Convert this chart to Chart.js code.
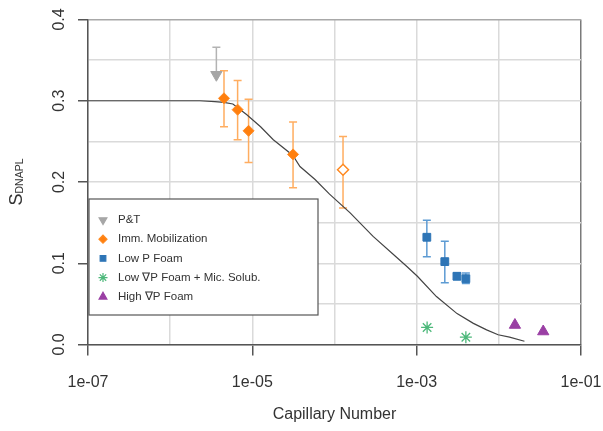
<!DOCTYPE html>
<html>
<head>
<meta charset="utf-8">
<script src="https://cdn.jsdelivr.net/npm/chart.js@4.4.1/dist/chart.umd.min.js"></script>
<style>
  html, body { margin: 0; padding: 0; background: #fff; }
  #wrap { width: 603px; height: 431px; position: relative; }
</style>
</head>
<body>
<div id="wrap"><canvas id="myChart"></canvas></div>
<script>
  // P&T
  const ptX = [3.65e-6]
  const ptY = [0.332]
  const ptHi = [0.366]
  const ptLo = [0.332]

  // Imm. Mobilization (last one is the open diamond)
  const immX = [4.52e-6, 6.62e-6, 9.0e-6, 3.13e-5, 1.27e-4]
  const immY = [0.303, 0.289, 0.263, 0.234, 0.215]
  const immHi = [0.337, 0.325, 0.302, 0.274, 0.256]
  const immLo = [0.268, 0.252, 0.224, 0.193, 0.168]

  // Low P Foam
  const lowPX = [1.33e-3, 2.2e-3, 3.09e-3, 3.97e-3]
  const lowPY = [0.132, 0.102, 0.084, 0.081]
  const lowPHi = [0.153, 0.127, 0.088, 0.088]
  const lowPLo = [0.108, 0.076, 0.080, 0.075]

  // Low gradP Foam + Mic. Solub.
  const micX = [1.34e-3, 3.97e-3]
  const micY = [0.021, 0.009]

  // High gradP Foam
  const highX = [1.57e-2, 3.47e-2]
  const highY = [0.024, 0.016]

  // model curve
  const curveX = [1e-7, 2.3e-6, 3.5e-6, 4.5e-6, 5.8e-6, 8.5e-6, 1.26e-5, 1.8e-5, 3.1e-5, 3.8e-5, 5.8e-5, 8.7e-5,
    1.55e-4, 2.95e-4, 5.6e-4, 7.6e-4, 1.02e-3, 1.74e-3, 3.1e-3, 4.9e-3, 7.1e-3, 9.8e-3, 1.35e-2, 2.05e-2]
  const curveY = [0.300, 0.300, 0.299, 0.298, 0.296, 0.283, 0.268, 0.252, 0.233, 0.219, 0.203, 0.185,
    0.162, 0.133, 0.108, 0.096, 0.084, 0.059, 0.038, 0.026, 0.018, 0.012, 0.009, 0.004]

  const xTicks = [1e-7, 1e-6, 1e-5, 1e-4, 1e-3, 1e-2, 1e-1]
  const xLabelled = [-7, -5, -3, -1]

  const FONT = '"Liberation Sans", Arial, sans-serif'
  const pts = (xs, ys) => xs.map((v, i) => ({ x: v, y: ys[i] }))
  const expOf = (v) => Math.round(Math.log10(v))
  const isYLabel = (v) => Math.abs(v * 10 - Math.round(v * 10)) < 1e-6

  // error bars under the markers
  const errorBars = {
    id: 'errorBars',
    beforeDatasetsDraw(chart) {
      const { ctx, scales: { x, y } } = chart
      chart.data.datasets.forEach((ds) => {
        if (!ds.errHi) return
        ctx.save()
        ctx.strokeStyle = ds.errColor
        ctx.lineWidth = 1.5
        ds.data.forEach((p, j) => {
          const px = x.getPixelForValue(p.x)
          const top = y.getPixelForValue(ds.errHi[j])
          const bot = y.getPixelForValue(ds.errLo[j])
          ctx.beginPath()
          ctx.moveTo(px, top); ctx.lineTo(px, bot)
          ctx.moveTo(px - 4, top); ctx.lineTo(px + 4, top)
          if (ds.errLo[j] < p.y) { ctx.moveTo(px - 4, bot); ctx.lineTo(px + 4, bot) }
          ctx.stroke()
        })
        ctx.restore()
      })
    }
  }

  // boxed legend inside the plot
  const boxLegend = {
    id: 'boxLegend',
    afterDatasetsDraw(chart) {
      const ctx = chart.ctx
      const left = 89, top = 199, w = 229, h = 116
      ctx.save()
      ctx.fillStyle = '#fff'
      ctx.fillRect(left, top, w, h)
      ctx.strokeStyle = '#555'
      ctx.lineWidth = 1.2
      ctx.strokeRect(left, top, w, h)
      ctx.font = '11.5px ' + FONT
      ctx.textBaseline = 'middle'
      ctx.textAlign = 'left'
      const items = chart.data.datasets.filter((ds) => ds.label && !ds.hideInLegend)
      items.forEach((ds, i) => {
        const yy = top + 21 + i * 19.2
        const bg = Array.isArray(ds.pointBackgroundColor) ? ds.pointBackgroundColor[0] : ds.pointBackgroundColor
        ctx.fillStyle = bg
        ctx.strokeStyle = ds.pointBorderColor
        Chart.helpers.drawPoint(ctx, {
          pointStyle: ds.pointStyle,
          rotation: ds.pointRotation || 0,
          radius: ds.legendRadius,
          borderWidth: 1
        }, left + 14, yy)
        ctx.fillStyle = '#333'
        ctx.fillText(ds.label, left + 29, yy)
      })
      ctx.restore()
    }
  }

  // y title with subscript
  const yTitle = {
    id: 'yTitle',
    afterDraw(chart) {
      const ctx = chart.ctx
      ctx.save()
      ctx.translate(22, 182)
      ctx.rotate(-Math.PI / 2)
      ctx.fillStyle = '#333'
      ctx.textBaseline = 'alphabetic'
      ctx.font = '18px ' + FONT
      const sW = ctx.measureText('S').width
      ctx.font = '10.5px ' + FONT
      const subW = ctx.measureText('DNAPL').width
      const start = -(sW + subW) / 2
      ctx.font = '18px ' + FONT
      ctx.fillText('S', start, 0)
      ctx.font = '10.5px ' + FONT
      ctx.fillText('DNAPL', start + sW, 0.5)
      ctx.restore()
    }
  }

  const ctx = document.getElementById('myChart')
  // eslint-disable-next-line no-unused-vars
  const myChart = new Chart(ctx, {
    type: 'scatter',
    data: {
      datasets: [
        {
          label: 'P&T',
          data: pts(ptX, ptY),
          errHi: ptHi, errLo: ptLo, errColor: '#b3b3b3',
          pointStyle: 'triangle', pointRotation: 180, pointRadius: 6.5, legendRadius: 4.5,
          pointBackgroundColor: '#a6a6a6', pointBorderColor: '#a6a6a6'
        },
        {
          label: 'Imm. Mobilization',
          data: pts(immX, immY),
          errHi: immHi, errLo: immLo, errColor: '#ffad60',
          pointStyle: 'rectRot', pointRadius: 5.5, legendRadius: 4,
          pointBackgroundColor: ['#ff7f0e', '#ff7f0e', '#ff7f0e', '#ff7f0e', '#ffffff'],
          pointBorderColor: '#ff8a22', pointBorderWidth: [1, 1, 1, 1, 1.5]
        },
        {
          label: 'Low P Foam',
          data: pts(lowPX, lowPY),
          errHi: lowPHi, errLo: lowPLo, errColor: '#5d9bd3',
          pointStyle: 'rect', pointRadius: 5.5, legendRadius: 4,
          pointBackgroundColor: '#2e75b6', pointBorderColor: '#2e75b6'
        },
        {
          label: 'Low \u2207P Foam + Mic. Solub.',
          data: pts(micX, micY),
          pointStyle: 'star', pointRadius: 6, legendRadius: 4.5, pointBorderWidth: 1.3,
          pointBackgroundColor: '#4cb87a', pointBorderColor: '#4cb87a'
        },
        {
          label: 'High \u2207P Foam',
          data: pts(highX, highY),
          pointStyle: 'triangle', pointRadius: 6.5, legendRadius: 4.5,
          pointBackgroundColor: '#9a3fa4', pointBorderColor: '#9a3fa4'
        },
        {
          label: 'Model',
          hideInLegend: true,
          data: pts(curveX, curveY),
          showLine: true,
          borderColor: '#444',
          borderWidth: 1.2,
          pointRadius: 0,
          order: 1
        }
      ]
    },
    options: {
      responsive: true,
      maintainAspectRatio: false,
      animation: false,
      devicePixelRatio: 1,
      layout: { padding: { top: 19.5, right: 22, left: 0, bottom: 0 } },
      plugins: {
        legend: { display: false },
        tooltip: { enabled: false }
      },
      scales: {
        x: {
          type: 'logarithmic',
          min: 1e-7,
          max: 1e-1,
          afterBuildTicks: (scale) => { scale.ticks = xTicks.map((v) => ({ value: v })) },
          afterFit: (scale) => {
            scale.height = 86.5
            scale.paddingLeft = 0
            scale.paddingRight = 0
          },
          ticks: {
            autoSkip: false,
            minRotation: 0,
            maxRotation: 0,
            padding: 17,
            color: '#333',
            font: { size: 16, family: FONT },
            callback: (v) => {
              const e = expOf(v)
              return xLabelled.includes(e) ? '1e-0' + Math.abs(e) : ''
            }
          },
          grid: {
            color: (c) => (c.tick && expOf(c.tick.value) === -1 ? '#7a7a7a' : '#dadada'),
            lineWidth: 1.5,
            tickLength: 11,
            tickWidth: 1.5,
            tickColor: (c) => (c.tick && xLabelled.includes(expOf(c.tick.value)) ? '#555' : 'rgba(0,0,0,0)')
          },
          border: { display: true, color: '#555', width: 1.5 },
          title: {
            display: true,
            text: 'Capillary Number',
            color: '#333',
            font: { size: 16, family: FONT },
            padding: { top: 0, bottom: 7 }
          }
        },
        y: {
          min: 0,
          max: 0.4,
          afterFit: (scale) => {
            scale.width = 88
            scale.paddingTop = 0
            scale.paddingBottom = 0
          },
          ticks: {
            stepSize: 0.05,
            autoSkip: false,
            minRotation: 90,
            maxRotation: 90,
            crossAlign: 'center',
            padding: 7,
            color: '#333',
            font: { size: 16, family: FONT },
            callback: (v) => (isYLabel(v) ? (Math.round(v * 10) / 10).toFixed(1) : '')
          },
          grid: {
            color: (c) => (c.tick && Math.abs(c.tick.value - 0.4) < 1e-6 ? '#a8a8a8' : '#dadada'),
            lineWidth: 1.5,
            tickLength: 10,
            tickWidth: 1.5,
            tickColor: (c) => (c.tick && isYLabel(c.tick.value) ? '#555' : 'rgba(0,0,0,0)')
          },
          border: { display: true, color: '#555', width: 1.5 }
        }
      }
    },
    plugins: [errorBars, boxLegend, yTitle]
  })
</script>
</body>
</html>
